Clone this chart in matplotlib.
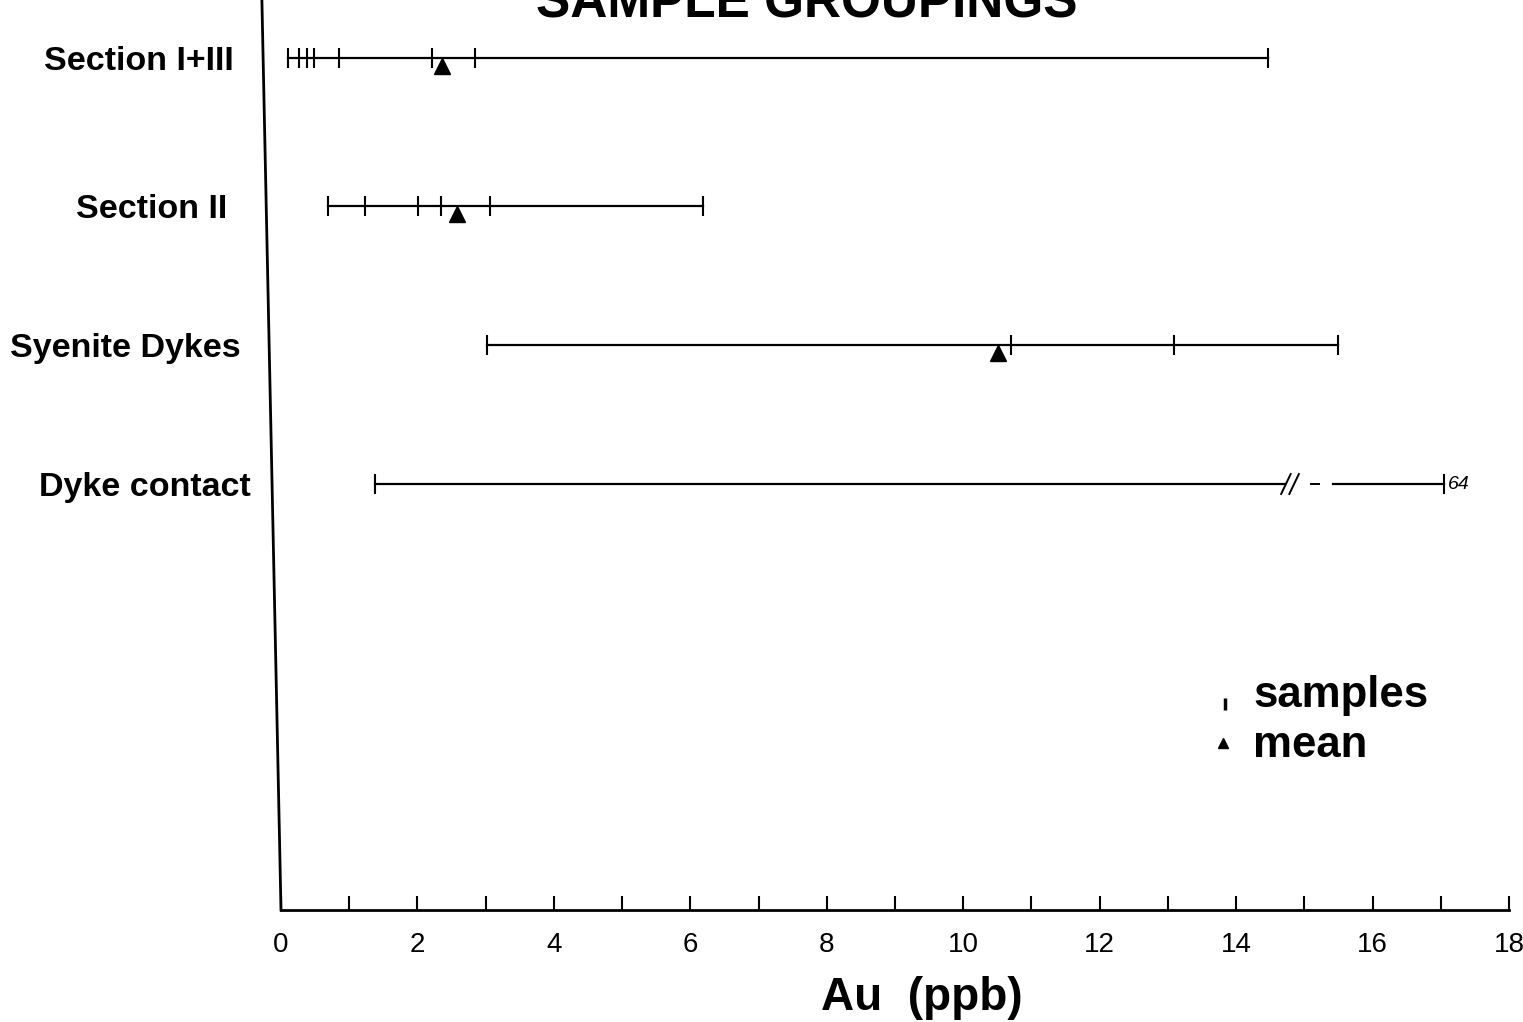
import matplotlib
matplotlib.use('Agg')
import matplotlib.pyplot as plt

# data (Au in ppb)
groups = ['Section I+III', 'Section II', 'Syenite Dykes', 'Dyke contact']
samples_s13 = [0.10, 0.26, 0.38, 0.48, 0.85, 2.21, 2.84, 14.47]
samples_s2 = [0.69, 1.23, 2.01, 2.35, 3.06, 6.19]
samples_syenite = [3.02, 10.70, 13.09, 15.50]
samples_dyke = [1.38, 64]
means = [2.36, 2.58, 10.51, None]
xticks = list(range(0, 19))
xticklabels = [str(t) if t % 2 == 0 else '' for t in xticks]

all_samples = [samples_s13, samples_s2, samples_syenite, samples_dyke]

W, H = 1523, 1022
row_y = [58, 206, 345, 484]          # pixel rows, y axis runs in pixels
label_x = [44, 76, 10, 39]
break_at = 14.72                     # axis break on the dyke contact row
outlier_pos = 17.04                  # where the 64 ppb sample is drawn

plt.rcParams['font.family'] = ['Liberation Sans', 'DejaVu Sans']

fig = plt.figure(figsize=(W / 100, H / 100), dpi=100)
ax = fig.add_axes([281 / W, 1 - 910 / H, 1228 / W, 910 / H])
ax.set_xlim(0, 18)
ax.set_ylim(910, 0)


def fx(px):
    return px / W


def fy(py):
    return 1 - py / H


for samples, mean, y in zip(all_samples, means, row_y):
    xs = [s if s <= 18 else outlier_pos for s in samples]
    if max(samples) > 18:
        # broken line with // marks
        ax.plot([min(xs), break_at], [y, y], color='black', lw=1.6)
        for dx in (0, 0.12):
            ax.plot([break_at - 0.06 + dx, break_at + 0.08 + dx], [y + 10, y - 10],
                    color='black', lw=1.4)
        ax.plot([break_at + 0.38, break_at + 0.5], [y, y], color='black', lw=1.4)
        ax.plot([break_at + 0.7, outlier_pos], [y, y], color='black', lw=1.6)
        ax.text(outlier_pos + 0.07, y, str(samples[-1]), fontsize=14, va='center',
                ha='left', style='italic')
    else:
        ax.plot([min(xs), max(xs)], [y, y], color='black', lw=1.6)
    ax.plot(xs, [y] * len(xs), ls='none', marker='|', ms=14, mew=1.5, color='black')
    if mean is not None:
        ax.plot([mean], [y + 8], ls='none', marker='^', ms=11, color='black')

for name, y, lx in zip(groups, row_y, label_x):
    fig.text(fx(lx), fy(y), name, fontsize=24.5, fontweight='bold', ha='left',
             va='center_baseline')

# axes styling
for side in ('top', 'right', 'left'):
    ax.spines[side].set_visible(False)
ax.spines['bottom'].set_linewidth(2)
ax.plot([-0.28, 0], [0, 910], color='black', lw=2, clip_on=False)
ax.set_yticks([])
ax.set_xticks(xticks)
ax.set_xticklabels(xticklabels, fontsize=20)
ax.tick_params(axis='x', direction='in', length=10, width=1.5, pad=16)

ax.text(7.7, 18, 'SAMPLE GROUPINGS', fontsize=37, fontweight='bold', ha='center', va='baseline')
fig.text(fx(922), fy(998), 'Au  (ppb)', fontsize=33, fontweight='bold', ha='center', va='center')

# legend
fig.text(fx(1253), fy(695), 'samples', fontsize=31.5, fontweight='bold', ha='left', va='center')
fig.text(fx(1253), fy(745), 'mean', fontsize=31.5, fontweight='bold', ha='left', va='center')
fig.lines.append(plt.Line2D([fx(1225)], [fy(704)], ls='none', marker='|', ms=8, mew=2.5,
                            color='black', transform=fig.transFigure))
fig.lines.append(plt.Line2D([fx(1223)], [fy(743)], ls='none', marker='^', ms=7,
                            color='black', transform=fig.transFigure))

fig.savefig('out.png', dpi=100)
